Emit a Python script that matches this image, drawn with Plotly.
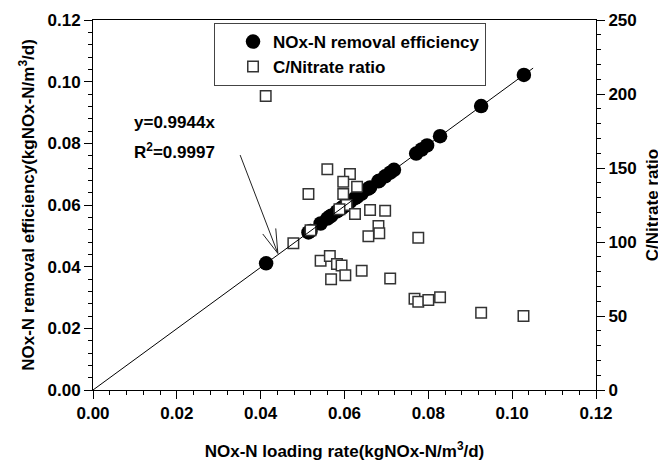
import plotly.graph_objects as go

# ---- data ----
loading_eff = [0.0413, 0.0514, 0.0519, 0.0543, 0.0559, 0.0565, 0.0568, 0.0582, 0.0588, 0.0593,
               0.0597, 0.0602, 0.0605, 0.0613, 0.0625, 0.0630, 0.0641, 0.0657, 0.0661, 0.0681,
               0.0683, 0.0697, 0.0709, 0.0718, 0.0771, 0.0784, 0.0797, 0.0828, 0.0926, 0.1028]
removal_eff = [0.0411, 0.0511, 0.0516, 0.0540, 0.0556, 0.0562, 0.0565, 0.0579, 0.0585, 0.0590,
               0.0594, 0.0599, 0.0602, 0.0610, 0.0622, 0.0626, 0.0637, 0.0653, 0.0657, 0.0677,
               0.0679, 0.0693, 0.0705, 0.0714, 0.0767, 0.0780, 0.0793, 0.0823, 0.0921, 0.1022]

loading_cn = [0.0412, 0.0478, 0.0519, 0.0514, 0.0559, 0.0613, 0.0597, 0.0630, 0.0597, 0.0605,
              0.0588, 0.0625, 0.0661, 0.0697, 0.0681, 0.0657, 0.0683, 0.0776, 0.0543, 0.0565,
              0.0582, 0.0593, 0.0568, 0.0602, 0.0641, 0.0709, 0.0767, 0.0776, 0.0800, 0.0828,
              0.0926, 0.1027]
cn_ratio = [198.6, 99.1, 107.9, 132.4, 149.1, 145.9, 140.7, 137.4, 132.4, 125.0,
            122.1, 118.9, 121.6, 121.1, 110.8, 103.9, 105.9, 102.8, 87.4, 90.5,
            85.1, 84.1, 74.8, 77.6, 80.6, 75.3, 61.6, 59.7, 60.8, 62.6,
            52.2, 50.0]

fit_x = [0.0, 0.105]
fit_y = [0.0, 0.1044]

x_ticks = [0.00, 0.02, 0.04, 0.06, 0.08, 0.10, 0.12]
y_ticks = [0.00, 0.02, 0.04, 0.06, 0.08, 0.10, 0.12]
y2_ticks = [0, 50, 100, 150, 200, 250]

FONT = "Liberation Sans, Arial, sans-serif"
BF = dict(family=FONT, size=17, color="black", weight="bold")

fig = go.Figure()
fig.add_trace(go.Scatter(
    x=loading_eff, y=removal_eff, mode="markers", name="NOx-N removal efficiency",
    marker=dict(symbol="circle", size=14.5, color="black", line=dict(width=0)),
    yaxis="y"))
fig.add_trace(go.Scatter(
    x=loading_cn, y=cn_ratio, mode="markers", name="C/Nitrate ratio",
    marker=dict(symbol="square", size=10.5, color="white", line=dict(width=1.5, color="#333333")),
    yaxis="y2"))

# regression line drawn above all markers
fig.add_shape(type="line", xref="x", yref="y", x0=fit_x[0], y0=fit_y[0], x1=fit_x[1], y1=fit_y[1],
              line=dict(color="black", width=1), layer="above")

# arrow with open head
fig.add_shape(type="path", xref="x", yref="y", layer="above",
              path="M 0.0351 0.0762 L 0.0441 0.0443 M 0.0405 0.0506 L 0.0441 0.0443 L 0.0436 0.0524",
              line=dict(color="#222222", width=1))

fig.add_annotation(x=0.0093, y=0.0869, xref="x", yref="y", text="y=0.9944x",
                   showarrow=False, xanchor="left", yanchor="middle", font=BF)
fig.add_annotation(x=0.0093, y=0.0776, xref="x", yref="y", text="R<sup>2</sup>=0.9997",
                   showarrow=False, xanchor="left", yanchor="middle", font=BF)

axis_common = dict(showline=True, linecolor="black", linewidth=1, ticks="outside", ticklen=8,
                   tickwidth=1, tickcolor="black", showgrid=False, zeroline=False,
                   tickfont=BF, automargin=False)

# the page adds an 8px body margin, so the figure is 8px smaller and margins compensate
fig.update_layout(
    width=658, height=456,
    margin=dict(l=85, r=70, t=12, b=74),
    paper_bgcolor="white", plot_bgcolor="white",
    font=dict(family=FONT),
    xaxis=dict(range=[0, 0.12], tickvals=x_ticks, ticktext=[f"{v:.2f}" for v in x_ticks],
               mirror=True,
               minor=dict(dtick=0.004, ticks="outside", ticklen=4, tickcolor="black", showgrid=False),
               title=dict(text="NOx-N loading rate(kgNOx-N/m<sup>3</sup>/d)", font=BF, standoff=22),
               **axis_common),
    yaxis=dict(range=[0, 0.12], tickvals=y_ticks, ticktext=[f"{v:.2f}" for v in y_ticks],
               minor=dict(dtick=0.004, ticks="outside", ticklen=4, tickcolor="black", showgrid=False),
               title=dict(text="NOx-N removal efficiency(kgNOx-N/m<sup>3</sup>/d)", font=BF, standoff=8),
               **axis_common),
    yaxis2=dict(range=[0, 250], tickvals=y2_ticks, overlaying="y", side="right",
                minor=dict(dtick=10, ticks="outside", ticklen=4, tickcolor="black", showgrid=False),
                title=dict(text="C/Nitrate ratio", font=BF, standoff=10),
                **axis_common),
    legend=dict(x=0.2406, y=0.992, xanchor="left", yanchor="top", bgcolor="white",
                bordercolor="#444444", borderwidth=1, font=BF, indentation=18,
                tracegroupgap=0),
    showlegend=True,
)

fig.write_html("out.html")
